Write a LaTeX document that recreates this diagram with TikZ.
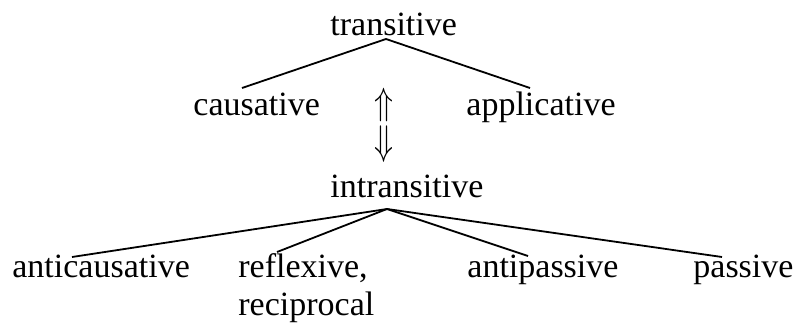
\documentclass[tikz,border=0pt]{standalone}
\usepackage{fontspec}
\setmainfont{Liberation Serif}
\usepackage{graphicx}
\usepackage{tikz}
\usetikzlibrary{positioning}
\usetikzlibrary{calc}

\begin{document}
\begin{tikzpicture}[x=0.5pt,y=-0.5pt,
    voice/.style={anchor=base west,inner sep=0pt,font=\fontsize{17}{20}\selectfont},
    relarrow/.style={inner sep=0pt,font=\fontsize{17}{20}\selectfont},
    branch/.style={line width=0.9pt}]
    \useasboundingbox (0,0) rectangle (796,322);

    % baselines of the three rows
    \def\ytop{35}
    \def\ymid{115}
    \def\ylow{277}

    % transitive and its two derivations
    \node[voice] (trans) at (330,\ytop) {transitive};
    \node[voice] (caus)  at (193,\ymid) {causative};
    \node[voice] (appl)  at (466,\ymid) {applicative};
    \coordinate (transapex) at (386,39);
    \coordinate (causend) at (242,88);
    \coordinate (applend) at (530,88);
    \draw[branch] (causend) -- (transapex) -- (applend);

    % the two-way relation
    \node[relarrow] (up)   at (384,105) {\scalebox{0.9}[1.1]{$\Uparrow$}};
    \node[relarrow] (down) at (384,144.5) {\scalebox{0.9}[1.2]{$\Downarrow$}};

    % intransitive and its four derivations
    \node[voice] (intrans) at (330,197) {intransitive};
    \node[voice] (anticaus) at (12,\ylow) {anticausative};
    \node[voice] (refl) at (238,\ylow) {reflexive,};
    \node[voice] (recip) at (238,315) {reciprocal};
    \node[voice] (antipass) at (467,\ylow) {antipassive};
    \node[voice] (pass) at (693,\ylow) {passive};
    \coordinate (intrapex) at (387,209);
    \coordinate (anticausend) at (72,257);
    \coordinate (reflend) at (277,252);
    \coordinate (antipassend) at (528,256);
    \coordinate (passend) at (722,257);
    \draw[branch] (intrapex) -- (anticausend);
    \draw[branch] (intrapex) -- (reflend);
    \draw[branch] (intrapex) -- (antipassend);
    \draw[branch] (intrapex) -- (passend);
\end{tikzpicture}
\end{document}
